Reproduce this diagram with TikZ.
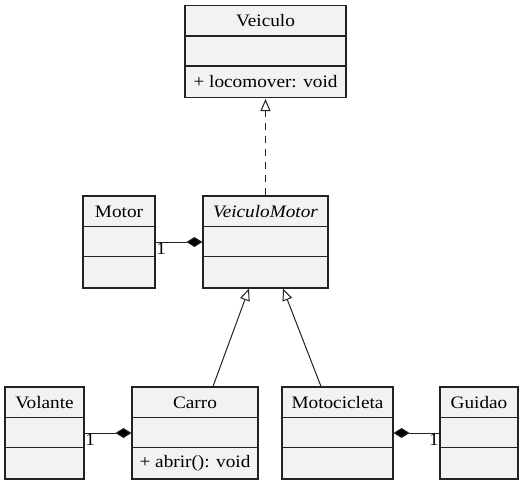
\documentclass[tikz,border=0pt]{standalone}
\usepackage{fontspec}
\setmainfont{Liberation Serif}[FakeStretch=1.1]
\usetikzlibrary{arrows.meta}
\definecolor{boxfill}{HTML}{F2F2F2}
\definecolor{edge}{HTML}{222222}
\tikzset{
  classbox/.style={draw=edge, fill=boxfill, line width=1.1pt, inner sep=0pt, minimum height=92},
  sepline/.style={draw=edge, line width=1.1pt},
  ctext/.style={inner sep=0pt, font=\fontsize{17.5}{19}\selectfont},
  conn/.style={draw=edge, line width=1pt},
  inherit/.style={conn, -{Triangle[open, length=12pt, width=10pt, fill=white]}},
  realize/.style={inherit, dash pattern=on 7pt off 6pt},
  compose/.style={conn, -{Diamond[length=16pt, width=10pt, fill=black]}},
  mult/.style={inner sep=0.5pt, font=\fontsize{17.5}{19}\selectfont},
}
\newcommand\umlclass[6]{% name, x, y, width, title, ops
  \node[classbox, minimum width=#4] (#1) at (#2,#3) {};
  \draw[sepline] ([yshift=-31pt]#1.north west) -- ([yshift=-31pt]#1.north east);
  \draw[sepline] ([yshift=-61pt]#1.north west) -- ([yshift=-61pt]#1.north east);
  \node[ctext] (#1-title) at ([yshift=-16pt]#1.north) {#5};
  \node[ctext] (#1-ops) at ([yshift=-77pt]#1.north) {#6};
}
\begin{document}
\begin{tikzpicture}[x=1pt,y=-1pt]
\useasboundingbox (0,0) rectangle (523,485);
\umlclass{veiculo}{265.5}{51.5}{161}{Veiculo}{+ locomover: void}
\umlclass{motor}{119}{242}{72}{Motor}{}
\umlclass{vmotor}{265.5}{242}{125}{\itshape VeiculoMotor}{}
\umlclass{volante}{44.5}{433}{79}{Volante}{}
\umlclass{carro}{195}{433}{126}{Carro}{+ abrir(): void}
\umlclass{moto}{337.5}{433}{111}{Motocicleta}{}
\umlclass{guidao}{479}{433}{78}{Guidao}{}
% realization
\draw[realize] (vmotor.north) -- ([yshift=-1pt]veiculo.south);
% generalization
\draw[inherit] ([xshift=18pt]carro.north) -- ([xshift=-16.5pt]vmotor.south);
\draw[inherit] ([xshift=-16.5pt]moto.north) -- ([xshift=17.5pt]vmotor.south);
% compositions
\draw[compose] (motor.east) -- (vmotor.west);
\node[mult, anchor=north west] (m1) at ([yshift=-0.5pt]motor.east) {1};
\draw[compose] (volante.east) -- (carro.west);
\node[mult, anchor=north west] (m2) at ([yshift=-0.5pt]volante.east) {1};
\draw[compose] (guidao.west) -- (moto.east);
\node[mult, anchor=north east] (m3) at ([yshift=-0.5pt]guidao.west) {1};
\end{tikzpicture}
\end{document}
